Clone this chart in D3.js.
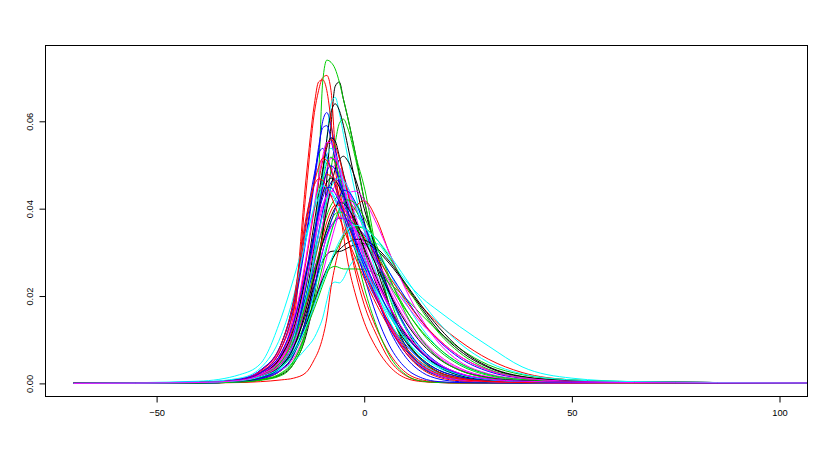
<!DOCTYPE html>
<html>
<head>
<meta charset="utf-8">
<script src="https://cdn.jsdelivr.net/npm/d3@7"></script>
<style>
  html, body { margin: 0; padding: 0; background: #fff; }
  svg { display: block; }
  text { font-family: Helvetica, Arial, "Liberation Sans", sans-serif; font-size: 9.3px; fill: #000; }
</style>
</head>
<body>
<main></main>
<script>
// x grid shared by every density curve
const gridX = [-70, -40, -30, -25, -20, -17, -14, -12, -11, -10, -9, -8, -7, -6, -5, -4, -2, 0, 3, 6, 10, 14, 18, 23, 30, 38, 50, 65, 85, 107];

// density values, in units of 1e-4
const d01 = [0,1,3,8,20,45,110,200,270,350,470,590,680,690,650,610,520,420,290,180,85,38,18,8,4,3,2,2,1,1];
const d02 = [0,2,5,18,60,140,440,620,670,700,705,670,540,450,400,340,250,180,110,55,18,5,2,1,1,1,1,1,1,1];
const d03 = [0,1,3,7,18,45,120,300,470,690,740,735,720,690,650,610,520,450,300,180,80,35,18,9,5,3,2,2,1,1];
const d04 = [0,2,8,25,80,170,330,460,530,600,620,590,540,490,440,400,330,270,195,130,70,35,17,8,4,3,2,1,1,1];
const d05 = [0,1,4,12,35,80,180,300,380,470,560,640,655,620,570,520,430,350,250,170,95,50,25,12,5,3,2,1,1,1];
const d06 = [0,2,7,18,50,100,200,290,340,390,440,480,500,495,475,450,400,350,280,215,145,95,60,32,14,7,4,3,2,1];
const d07 = [0,1,5,14,40,90,200,320,400,480,560,620,640,625,590,545,455,370,265,180,100,52,26,12,5,3,2,1,1,1];
const d08 = [0,2,6,22,70,160,470,640,690,695,670,600,500,410,340,280,200,140,80,40,12,4,2,1,1,1,1,1,1,0];
const d09 = [0,1,3,8,22,50,120,210,270,340,420,490,550,595,605,585,510,420,300,200,105,52,24,10,4,2,1,1,1,1];
const d10 = [0,2,10,30,90,180,340,470,540,585,590,560,510,460,420,380,320,265,195,135,78,42,22,10,5,3,2,1,1,1];
const d11 = [0,2,6,14,30,50,80,105,125,150,190,225,232,230,240,260,290,315,320,285,235,195,165,130,85,38,12,4,2,1];
const d12 = [0,2,8,20,55,105,195,275,320,365,405,435,452,460,455,440,400,355,290,225,155,100,64,35,15,7,4,3,2,1];
const d13 = [0,2,7,20,60,120,250,370,430,490,540,562,555,520,480,440,370,305,225,160,95,55,30,15,7,4,2,2,1,1];
const d14 = [0,1,2,4,8,12,25,55,75,105,150,220,270,310,340,365,405,418,375,300,220,175,135,97,55,25,8,3,2,1];
const d15 = [0,2,8,20,50,85,140,185,210,235,255,265,268,265,262,262,262,260,250,230,195,155,118,80,42,20,8,4,2,1];
const d16 = [0,2,10,30,90,190,370,480,525,538,520,490,455,420,385,355,300,250,190,140,88,52,30,15,7,4,2,1,1,1];
const d17 = [0,5,20,45,150,240,340,400,425,440,445,440,425,405,385,365,320,275,215,160,100,60,35,18,8,4,2,1,1,1];
const d18 = [0,2,7,20,55,110,225,330,385,440,490,515,515,495,470,440,380,320,245,180,112,68,40,20,9,5,3,2,1,1];
const d19 = [0,2,6,16,45,85,160,225,255,280,295,302,303,302,305,310,318,320,305,275,225,170,120,75,36,15,6,3,2,1];
const d20 = [0,1,5,15,50,110,240,350,410,455,478,475,450,415,375,335,265,200,125,70,25,8,3,1,1,1,1,1,1,1];
const d21 = [0,2,8,22,60,110,200,280,320,355,385,408,422,430,428,420,395,360,300,240,170,115,75,42,18,8,4,3,2,1];
const d22 = [0,1,4,12,38,85,190,290,345,395,435,460,468,460,440,415,355,290,200,125,60,25,10,4,2,1,1,1,1,1];
const d23 = [0,2,6,15,40,75,145,210,248,285,318,348,372,390,398,398,385,360,310,255,185,125,80,45,20,9,4,3,2,1];
const d24 = [0,2,10,28,80,150,260,340,380,410,428,430,420,405,388,370,330,290,230,175,115,72,44,23,10,5,3,2,1,1];
const d25 = [0,1,4,10,30,65,150,240,290,345,400,450,490,512,520,510,465,400,300,210,125,70,38,18,8,4,2,2,1,1];
const d26 = [0,2,8,22,65,135,280,400,460,510,545,558,545,515,475,435,360,290,205,135,70,32,14,6,3,2,1,1,1,1];
const d27 = [0,1,4,12,40,95,220,340,400,460,505,518,505,475,435,390,300,220,130,65,20,5,2,1,1,1,1,1,1,1];
const d28 = [0,3,10,25,65,115,200,262,292,320,342,360,372,378,378,374,360,340,300,255,195,140,97,58,27,12,5,3,2,1];
const d29 = [0,1,5,15,48,105,235,350,410,470,520,538,525,495,460,425,355,290,210,145,82,44,22,10,4,2,1,1,1,1];
const d30 = [0,1,4,11,30,58,120,180,215,252,290,325,360,392,418,435,440,420,365,300,215,145,92,50,22,10,5,3,2,1];
const d31 = [0,2,8,22,62,125,250,345,395,435,460,470,465,450,430,408,360,310,240,178,112,68,40,20,9,5,3,2,1,1];
const d32 = [0,2,6,16,45,90,180,255,295,335,370,395,408,408,400,390,365,335,290,245,190,140,100,62,30,13,5,3,2,1];
const d33 = [0,2,6,15,38,68,125,172,198,225,250,275,298,318,335,348,358,355,330,290,225,165,115,70,32,14,6,3,2,1];
const d34 = [0,1,4,12,40,95,225,340,400,450,485,498,490,465,432,395,318,245,155,88,35,12,4,2,1,1,1,1,1,1];
const d35 = [0,1,5,14,42,90,195,290,340,385,420,448,465,470,465,450,405,350,270,200,125,75,43,21,9,4,2,2,1,1];
const d36 = [0,2,8,22,68,140,290,410,470,520,552,550,525,490,452,415,345,280,200,135,75,38,18,8,4,2,1,1,1,1];
const d37 = [0,2,6,15,40,72,135,188,215,240,262,280,295,306,315,322,330,328,310,280,228,175,128,80,38,16,6,3,2,1];
const d38 = [0,2,8,25,80,170,360,460,495,515,510,490,462,430,398,368,310,258,192,138,82,46,25,12,5,3,2,1,1,1];
const d39 = [0,2,7,18,50,98,185,255,290,322,350,372,388,392,390,382,358,328,278,228,168,118,80,46,20,9,4,3,2,1];
const d40 = [0,1,4,11,32,66,145,220,262,302,338,370,398,425,442,440,412,365,285,210,130,78,45,22,9,4,2,2,1,1];
const d41 = [0,3,12,35,110,200,330,408,440,452,450,438,418,395,372,350,305,262,205,155,100,62,38,20,9,4,2,1,1,1];
const d42 = [0,2,6,17,46,90,172,238,272,305,335,358,375,380,378,372,350,322,278,235,182,135,98,62,30,13,5,3,2,1];
const d43 = [0,1,5,14,40,82,170,245,285,322,355,382,402,414,412,402,370,330,268,208,140,90,56,30,13,6,3,2,1,1];
const d44 = [0,2,8,28,90,190,380,455,468,465,450,430,405,380,355,330,285,240,180,128,75,40,21,10,4,2,1,1,1,1];
const d45 = [0,1,3,8,24,52,120,190,230,270,310,345,375,398,413,420,410,380,315,245,160,98,58,30,12,5,2,2,1,1];
const d46 = [0,2,8,24,70,140,255,345,390,425,448,448,435,415,392,368,322,278,218,165,108,68,42,22,10,5,2,2,1,1];
const d47 = [0,2,6,15,38,70,130,180,206,232,258,282,305,325,342,355,362,355,330,295,240,185,138,92,48,22,8,4,2,1];
const d48 = [0,2,7,20,58,118,232,322,368,405,430,440,436,422,405,385,342,298,235,178,115,72,44,23,10,5,3,2,1,1];

const curves = [d01, d02, d03, d04, d05, d06, d07, d08, d09, d10, d11, d12,
                d13, d14, d15, d16, d17, d18, d19, d20, d21, d22, d23, d24,
                d25, d26, d27, d28, d29, d30, d31, d32, d33, d34, d35, d36,
                d37, d38, d39, d40, d41, d42, d43, d44, d45, d46, d47, d48];

// tick values
const xTicks = [-50, 0, 50, 100];
const yTicks = [0, 0.02, 0.04, 0.06];

// old R palette, cycled like matplot does
const palette = ['#000000', '#FF0000', '#00CD00', '#0000FF', '#00FFFF', '#FF00FF'];

const W = 830, H = 453;
const box = { left: 45.5, right: 807.5, top: 45.5, bottom: 396.5 };

const svg = d3.select('main').append('svg')
    .attr('width', W)
    .attr('height', H);

const x = d3.scaleLinear().domain([-50, 100]).range([156.6, 779.5]);
const y = d3.scaleLinear().domain([0, 0.06]).range([383.4, 121.3]);

svg.append('clipPath').attr('id', 'plotclip')
  .append('rect')
    .attr('x', box.left).attr('y', box.top)
    .attr('width', box.right - box.left)
    .attr('height', box.bottom - box.top);

const line = d3.line()
    .x((d, i) => x(gridX[i]))
    .y(d => y(d / 1e4))
    .curve(d3.curveMonotoneX);

svg.append('g')
    .attr('clip-path', 'url(#plotclip)')
  .selectAll('path')
  .data(curves)
  .enter()
  .append('path')
    .attr('d', d => line(d))
    .attr('fill', 'none')
    .attr('stroke', (d, i) => palette[i % palette.length])
    .attr('stroke-width', 1);

// box
svg.append('rect')
    .attr('x', box.left).attr('y', box.top)
    .attr('width', box.right - box.left)
    .attr('height', box.bottom - box.top)
    .attr('fill', 'none')
    .attr('stroke', '#000')
    .attr('stroke-width', 1);

// x axis
const xAxis = svg.append('g')
    .attr('transform', `translate(0,${box.bottom})`)
    .call(d3.axisBottom(x).tickValues(xTicks).tickSize(6).tickPadding(3)
        .tickFormat(d => d < 0 ? '\u2212' + Math.abs(d) : d));
xAxis.select('.domain').remove();
xAxis.selectAll('.tick line').attr('stroke', '#000');
xAxis.selectAll('.tick text').attr('font-size', null).attr('font-family', null)
    .attr('y', 19.3).attr('dy', null);

// y axis, labels rotated like R's default
const yAxis = svg.append('g')
    .attr('transform', `translate(${box.left},0)`)
    .call(d3.axisLeft(y).tickValues(yTicks).tickSize(6).tickFormat(d3.format('.2f')));
yAxis.select('.domain').remove();
yAxis.selectAll('.tick line').attr('stroke', '#000');
yAxis.selectAll('.tick text').remove();
yAxis.selectAll('.tick')
  .append('text')
    .attr('transform', 'translate(-15.8,0) rotate(-90)')
    .attr('text-anchor', 'middle')
    .attr('dy', '0.35em')
    .text(d => d3.format('.2f')(d));
</script>
</body>
</html>
